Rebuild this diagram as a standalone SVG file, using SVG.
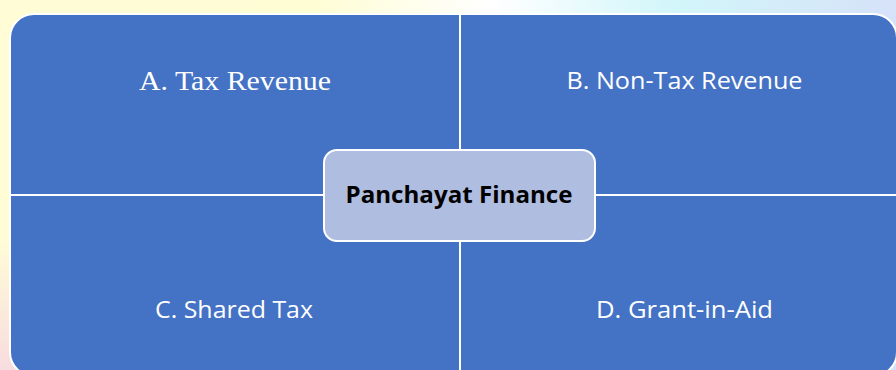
<svg xmlns="http://www.w3.org/2000/svg" width="896" height="370" viewBox="0 0 896 370">
  <defs>
    <linearGradient id="bg" x1="0" y1="0" x2="1" y2="0">
      <stop offset="0" stop-color="#FFFCD6"/>
      <stop offset="0.35" stop-color="#FFFDD4"/>
      <stop offset="0.55" stop-color="#FFFFFF"/>
      <stop offset="0.75" stop-color="#D2F6FA"/>
      <stop offset="1" stop-color="#D6E2F8"/>
    </linearGradient>
    <radialGradient id="pink" cx="0" cy="1" r="0.35">
      <stop offset="0" stop-color="#F8DCE0"/>
      <stop offset="1" stop-color="#F8DCE0" stop-opacity="0"/>
    </radialGradient>
    <style>
      .quad { fill: #4472C4; stroke: #FFFFFF; stroke-width: 2; }
      .lbl { fill: #FFFFFF; text-anchor: middle; }
      .serif { font-family: "Liberation Serif", "Times New Roman", serif; font-size: 27px; }
      .sans { font-family: "Open Sans", "Liberation Sans", sans-serif; font-size: 23px; }
      .hub { fill: #AFBDE0; stroke: #FFFFFF; stroke-width: 2; }
      .hubtxt { fill: #000000; font-family: "Open Sans", "Liberation Sans", sans-serif; font-weight: bold; font-size: 24px; text-anchor: middle; }
    </style>
  </defs>
  <rect x="0" y="0" width="896" height="370" fill="url(#bg)"/>
  <rect x="0" y="0" width="896" height="370" fill="url(#pink)"/>

  <g id="tax-revenue">
    <path class="quad" d="M10,195 V38 A24,24 0 0 1 34,14 H460 V195 Z"/>
    <text class="lbl serif" x="235" y="90" textLength="192" lengthAdjust="spacingAndGlyphs">A. Tax Revenue</text>
  </g>
  <g id="non-tax-revenue">
    <path class="quad" d="M460,14 H873 A24,24 0 0 1 897,38 V195 H460 Z"/>
    <text class="lbl sans" x="684.5" y="89" textLength="236" lengthAdjust="spacingAndGlyphs">B. Non-Tax Revenue</text>
  </g>
  <g id="shared-tax">
    <path class="quad" d="M10,195 H460 V376 H34 A24,24 0 0 1 10,352 Z"/>
    <text class="lbl sans" x="234" y="318" textLength="158" lengthAdjust="spacingAndGlyphs">C. Shared Tax</text>
  </g>
  <g id="grant-in-aid">
    <path class="quad" d="M460,195 H897 V352 A24,24 0 0 1 873,376 H460 Z"/>
    <text class="lbl sans" x="684.5" y="318" textLength="177" lengthAdjust="spacingAndGlyphs">D. Grant-in-Aid</text>
  </g>
  <g id="panchayat-finance">
    <rect class="hub" x="324" y="150" width="271" height="91" rx="13" ry="13"/>
    <text class="hubtxt" x="459" y="203" textLength="227" lengthAdjust="spacingAndGlyphs">Panchayat Finance</text>
  </g>
</svg>
